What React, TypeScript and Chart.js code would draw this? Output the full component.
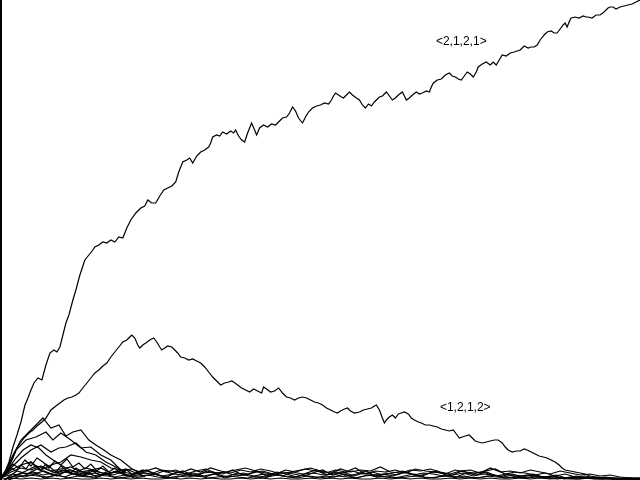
import React, { useEffect, useRef } from "react";
import { Chart, registerables } from "chart.js";

Chart.register(...registerables);

// Walk positions: x = step, y = height above floor
const walkA_x = [0,4,8,12,16,20,24,27,30,33,37,41,45,49,53,56,59,62,65,68,72,75,79,84,88,92,94,98,102,106,110,114,118,122,126,130,135,140,144,147,151,155,159,163,167,171,175,178,182,186,189,192,196,200,204,208,210,212,216,219,222,226,230,233,235,238,241,244,247,251,254,256,259,263,267,271,275,278,282,286,289,292,295,298,302,305,308,312,316,320,324,328,331,333,335,338,341,343,346,349,352,356,359,362,365,368,371,374,376,379,382,386,389,392,395,398,402,404,406,409,412,416,419,422,426,429,431,433,437,441,445,449,452,455,458,461,464,467,470,473,476,478,482,486,490,493,496,499,502,506,510,514,517,520,524,528,531,534,537,540,544,547,551,554,557,560,563,565,567,569,571,575,579,583,586,588,592,596,600,604,608,610,613,616,620,624,628,632,636,640];
const walkA_y = [2,8,18,33,45,58,75,82,90,97,102,100,115,127,130,128,133,145,157,165,180,190,205,220,225,230,233,235,238,237,240,238,243,242,252,260,267,272,274,280,277,277,284,290,292,294,298,308,318,320,322,317,324,328,330,333,337,343,345,344,348,346,349,347,350,344,340,338,347,357,350,345,352,355,353,356,355,358,362,363,367,373,369,362,357,363,368,372,374,375,377,376,380,384,387,385,383,382,385,388,385,382,380,375,372,376,374,378,380,383,384,388,384,380,382,385,388,384,380,382,385,388,386,387,389,388,393,397,400,401,405,407,404,403,401,400,404,408,406,403,408,413,416,418,415,418,415,420,425,424,427,428,429,430,434,432,433,433,435,440,445,448,449,447,447,451,455,457,453,458,462,463,462,464,463,463,462,465,465,468,472,473,473,471,473,474,475,476,478,480];

const walkB_x = [0,4,8,12,16,20,24,28,32,36,41,45,50,55,59,63,67,71,75,78,82,86,90,94,98,102,106,110,114,118,122,126,129,131,134,137,139,142,145,149,153,156,159,161,164,167,171,174,177,180,184,188,192,196,200,204,208,212,216,220,224,228,231,233,237,241,245,249,253,257,261,263,266,270,274,278,282,286,290,294,298,302,306,310,314,318,322,326,330,334,337,340,344,347,350,354,359,363,367,371,374,376,379,382,384,386,389,392,395,398,401,404,408,411,414,418,421,425,429,433,437,441,445,449,453,456,459,462,465,469,472,475,478,482,486,490,494,498,502,505,508,512,516,520,524,527,531,535,539,543,547,551,555,559,562,565,570,575,580,585,590,596,605,620,640];
const walkB_y = [2,8,13,22,32,38,43,47,50,54,58,62,70,74,77,80,82,83,85,87,92,97,102,107,110,114,117,123,128,133,138,140,143,145,142,135,132,135,137,140,142,138,133,130,132,134,133,130,127,123,122,120,121,119,117,113,108,103,99,95,97,98,99,98,95,92,90,88,91,89,87,93,91,88,89,92,87,83,82,80,82,83,82,80,78,77,75,72,70,68,67,69,71,72,69,67,68,70,71,72,74,75,70,62,57,60,63,65,62,66,67,68,66,62,60,58,57,55,55,54,53,51,50,49,50,46,42,43,44,45,42,39,38,37,38,39,40,40,37,33,30,28,29,29,31,30,28,26,24,23,22,20,18,15,12,10,9,8,7,6,4,3,2,2,2];

// Short-lived walks near the start
const walkC_x = [0,5,12,20,28,35,42,50,58,65,72,80,88,95,103,110,120,130,140];
const walkC_y = [2,10,25,40,48,55,62,52,55,44,48,50,40,35,30,25,20,12,6];
const walkD_x = [0,8,15,25,35,45,52,60,70,80,90,100,110,118,125];
const walkD_y = [2,15,30,40,43,48,40,47,40,32,33,25,20,12,5];
const walkE_x = [0,10,20,30,40,50,58,65,75,85,95,105,115,125];
const walkE_y = [2,12,22,30,35,28,32,33,37,28,25,18,13,8];
const walkF_x = [0,10,20,30,40,50,60,70,80,90,100,110,120];
const walkF_y = [2,10,15,18,10,15,18,25,23,20,18,12,10];
const walkG_x = [0,8,15,22,30,38,45,55,65,75,85];
const walkG_y = [2,12,22,30,35,32,25,18,12,8,5];
const walkH_x = [0,6,12,18,24,30,36,42,48,54,60,66,72,78,84,90,96,102,108,114,120,126,132,138,144];
const walkH_y = [2,9,16,12,20,14,22,18,12,19,15,21,13,17,11,16,9,14,8,12,7,10,5,7,3];
const walkI_x = [0,5,10,15,20,25,30,35,40,45,50,55,60,65,70,75,80,85,90,95,100,105,110];
const walkI_y = [2,7,12,9,15,11,18,13,10,16,12,8,14,10,7,12,9,6,10,7,5,8,4];

// Long walks that stay near the floor (x step 10)
const floorStep = 10;
const floor1 = [2,8,12,10,14,9,11,13,8,10,12,7,9,11,8,6,10,9,7,11,8,12,9,7,10,8,11,9,6,8,10,12,9,7,11,8,10,9,13,8,7,10,9,11,8,6,9,10,7,12,8,9,7,10,8,6,9,7,5,6,4,5,3,2,2];
const floor2 = [1,5,9,14,11,7,10,8,12,9,6,8,11,7,9,12,8,10,6,9,11,7,8,10,12,9,7,6,10,8,11,9,7,10,8,12,6,9,8,10,7,11,9,8,6,10,8,7,9,11,6,8,7,5,7,4,6,3,4,2,3,2,1,1,1];
const floor3 = [0,4,7,6,9,5,8,6,4,7,5,8,6,4,7,5,9,6,5,7,4,6,8,5,7,4,6,5,8,6,4,7,5,6,8,4,7,5,6,4,8,5,7,6,4,5,7,4,6,5,3,5,4,6,3,4,2,3,2,2,1,1,1,1,1];
const floor4 = [0,3,5,4,3,5,2,4,3,5,4,2,3,4,5,3,2,4,3,5,2,3,4,3,2,4,3,5,3,2,4,3,2,4,3,2,5,3,4,2,3,4,2,3,4,2,3,2,4,3,2,3,2,3,2,1,2,1,2,1,1,1,1,1,1];
const floor5 = [1,2,1,2,1,2,1,2,1,1,2,1,2,1,2,1,1,2,1,2,1,2,1,1,2,1,2,1,2,1,1,2,1,2,1,2,1,1,2,1,2,1,2,1,1,2,1,2,1,2,1,1,2,1,2,1,2,1,1,2,1,2,1,2,1];
const floor6 = [3,6,4,8,5,7,10,6,4,9,7,5,8,6,10,7,4,6,9,5,7,8,6,10,5,7,9,6,4,8,6,7,10,5,7,9,6,8,5,7,9,6,4,8,7,5,9,6,8,5,4,6,3,5,3,4,2,3,2,2,2,1,1,1,1];
const floor7 = [2,9,6,11,7,4,9,5,8,3,6,9,4,7,10,5,3,8,6,4,9,6,3,7,5,9,4,8,6,3,7,10,5,8,4,6,9,3,7,5,8,4,6,9,5,3,7,5,8,4,6,3,5,4,3,5,2,4,2,3,2,1,2,1,1];
const floor8 = [1,4,3,6,2,5,3,7,4,2,6,3,5,2,4,6,3,2,5,4,3,6,2,4,5,3,2,6,4,3,5,2,4,3,6,2,4,5,3,2,4,6,3,2,5,3,4,2,3,5,2,3,2,4,2,3,1,2,2,1,2,1,1,1,1];

const labelText = ["<2,1,2,1>", "<1,2,1,2>"];
const labelX = [461, 465];
const labelY = [438, 72];

const pair = (xs: number[], ys: number[]) => ys.map((y, i) => ({ x: xs[i], y }));
const floorPairs = (ys: number[], offset: number) => ys.map((y, i) => ({ x: offset + i * floorStep, y }));

export default function App() {
  const ref = useRef<HTMLCanvasElement | null>(null);
  useEffect(() => {
    document.body.style.margin = "0";
    const ctx = ref.current;
    if (!ctx) return;
    const series = [
      pair(walkA_x, walkA_y),
      pair(walkB_x, walkB_y),
      pair(walkC_x, walkC_y),
      pair(walkD_x, walkD_y),
      pair(walkE_x, walkE_y),
      pair(walkF_x, walkF_y),
      pair(walkG_x, walkG_y),
      pair(walkH_x, walkH_y),
      pair(walkI_x, walkI_y),
      floorPairs(floor1, 0),
      floorPairs(floor2, 5),
      floorPairs(floor3, 3),
      floorPairs(floor4, 7),
      floorPairs(floor5, 0),
      floorPairs(floor6, 2),
      floorPairs(floor7, 6),
      floorPairs(floor8, 4),
    ];
    const labelPlugin = {
      id: "walkLabels",
      afterDatasetsDraw(chart: any) {
        const c = chart.ctx;
        const xs = chart.scales.x;
        const ys = chart.scales.y;
        c.save();
        c.fillStyle = "#000";
        c.font = "12px 'Liberation Sans', Arial, sans-serif";
        c.textAlign = "center";
        c.textBaseline = "middle";
        labelText.forEach((t, i) => {
          c.fillText(t, xs.getPixelForValue(labelX[i]), ys.getPixelForValue(labelY[i]));
        });
        c.restore();
      },
    };
    const chart = new Chart(ctx, {
      type: "line",
      data: {
        datasets: series.map((d) => ({
          data: d,
          borderColor: "#000",
          borderWidth: 1.2,
          pointRadius: 0,
          tension: 0,
          fill: false,
        })),
      },
      options: {
        responsive: false,
        animation: false,
        layout: { padding: { left: 1, top: 0, right: 0, bottom: 0 } },
        plugins: { legend: { display: false }, tooltip: { enabled: false } },
        scales: {
          x: { type: "linear", min: 0, max: 640, display: false },
          y: {
            type: "linear",
            min: 0,
            max: 480,
            display: true,
            ticks: { display: false },
            grid: { display: false, drawTicks: false },
            border: { display: true, color: "#000", width: 2 },
          },
        },
      },
      plugins: [labelPlugin],
    });
    return () => chart.destroy();
  }, []);
  return (
    <div style={{ position: "fixed", left: 0, top: 0, width: 640, height: 480, background: "#fff" }}>
      <canvas ref={ref} width={640} height={480} />
    </div>
  );
}
